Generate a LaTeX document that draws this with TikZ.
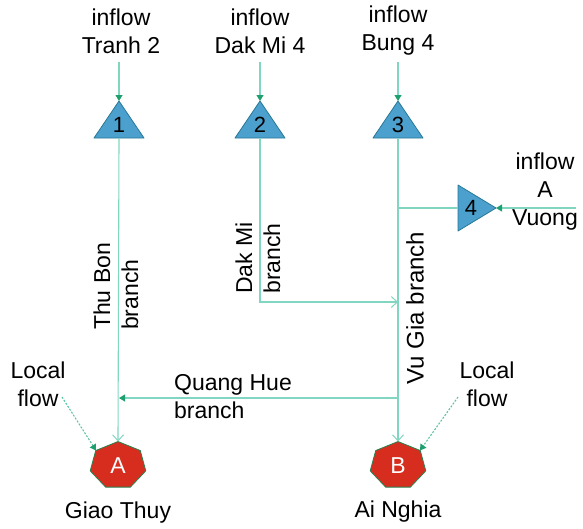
\documentclass[tikz,border=0pt]{standalone}
\usepackage{fontspec}
\setmainfont{Liberation Sans}
\usetikzlibrary{arrows.meta,calc}
\definecolor{flowc}{RGB}{128,214,192}
\definecolor{dotc}{RGB}{90,195,165}
\definecolor{tipc}{RGB}{30,160,110}
\definecolor{trifill}{RGB}{75,160,205}
\definecolor{tridraw}{RGB}{40,120,150}
\definecolor{heptfill}{RGB}{215,45,30}
\definecolor{heptdraw}{RGB}{40,130,80}
\tikzset{
  lbl/.style={font=\fontsize{23}{28}\selectfont, align=center, inner sep=0pt},
  num/.style={font=\fontsize{22}{26}\selectfont, inner sep=0pt},
  let/.style={font=\fontsize{23}{26}\selectfont, inner sep=0pt, text=white},
  flow/.style={draw=flowc, line width=1.1pt},
  filltip/.style={-{Triangle[length=6pt,width=7pt,color=tipc]}},
  opentip/.style={-{Straight Barb[length=6pt,width=11pt,line width=1pt]}},
  localflow/.style={draw=dotc, line width=1.1pt, dash pattern=on 2pt off 1.5pt, filltip},
  tri/.style={fill=trifill, draw=tridraw, line width=0.8pt, line join=round},
  hept/.style={fill=heptfill, draw=heptdraw, line width=0.8pt},
}
\begin{document}
\begin{tikzpicture}[x=1pt,y=-1pt]
\useasboundingbox (0,0) rectangle (583,528);
% triangles (drawn first)
\foreach \xx/\nn in {119/1,260/2,398/3}{
  \draw[tri] (\xx,101) -- (\xx+25,138) -- (\xx-25,138) -- cycle;
}
\draw[tri] (496,208) -- (458,231) -- (458,185) -- cycle;
% heptagons
\coordinate (Apos) at (118,465.5);
\coordinate (Bpos) at (398,465.5);
\foreach \pp in {Apos,Bpos}{
  \begin{scope}[shift={(\pp)}]
    \draw[hept] (90:28.5 and -24) -- (141.43:28.5 and -24) -- (192.86:28.5 and -24) -- (244.29:28.5 and -24) -- (295.71:28.5 and -24) -- (347.14:28.5 and -24) -- (398.57:28.5 and -24) -- cycle;
  \end{scope}
}
% named nodes
\node[num] (T1) at (119,125) {1};
\node[num] (T2) at (260,125) {2};
\node[num] (T3) at (398,125) {3};
\node[num] (T4) at (471,208) {4};
\coordinate (T1top) at (119,101);
\coordinate (T2top) at (260,101);
\coordinate (T3top) at (398,101);
\coordinate (T1bot) at (119,138);
\coordinate (T2bot) at (260,138);
\coordinate (T3bot) at (398,138);
\coordinate (T4tip) at (496,208);
\coordinate (T4left) at (458,208);
\node[let] (A) at (Apos) {A};
\node[let] (B) at (Bpos) {B};
\coordinate (Atop) at (118,441.5);
\coordinate (Btop) at (398,441.5);
\coordinate (Avert) at (96,450.5);
\coordinate (Bvert) at (420,450.5);

\node[lbl] (in1) at (121,31) {inflow\\Tranh 2};
\node[lbl] (in2) at (260,31) {inflow\\Dak Mi 4};
\node[lbl] (in3) at (398,31) {inflow\\Bung 4};
\node[lbl] (in4) at (545,192) {inflow\\A\\Vuong};
\coordinate (e4) at (576,208);
\node[lbl] (GT) at (118,513) {Giao Thuy};
\node[lbl] (AN) at (398,512) {Ai Nghia};
\node[lbl] (LL) at (38,384) {Local\\flow};
\node[lbl] (LR) at (487,384) {Local\\flow};
\node[lbl, align=left, anchor=west] (QH) at (174,397) {Quang Hue\\branch};
\node[lbl, align=left, rotate=90] (TB) at (116,286.5) {Thu Bon\\branch};
\node[lbl, align=left, rotate=90] (DM) at (258,258) {Dak Mi\\branch};
\node[lbl, rotate=90, font=\fontsize{24}{28}\selectfont] (VG) at (415,308) {Vu Gia branch};
\coordinate (DMcorner) at (260,302);
\coordinate (DMend) at (398,302);
\coordinate (VG4) at (398,208);
\coordinate (QHstart) at (398,398);
\coordinate (QHend) at (119,398);

% inflow arrows
\draw[flow, filltip] (119,62) -- (T1top);
\draw[flow, filltip] (260,62) -- (T2top);
\draw[flow, filltip] (398,62) -- (T3top);
\draw[flow, filltip] (e4) -- (T4tip);
% branches
\draw[flow, opentip] (T1bot) -- (Atop);
\draw[flow, opentip] (T3bot) -- (Btop);
\draw[flow, opentip] (T2bot) -- (DMcorner) -- (DMend);
\draw[flow] (T4left) -- (VG4);
\draw[flow, filltip] (QHstart) -- (QHend);
% local flows
\draw[localflow] (62,397) -- (Avert);
\draw[localflow] (458,397) -- (Bvert);
\end{tikzpicture}
\end{document}
